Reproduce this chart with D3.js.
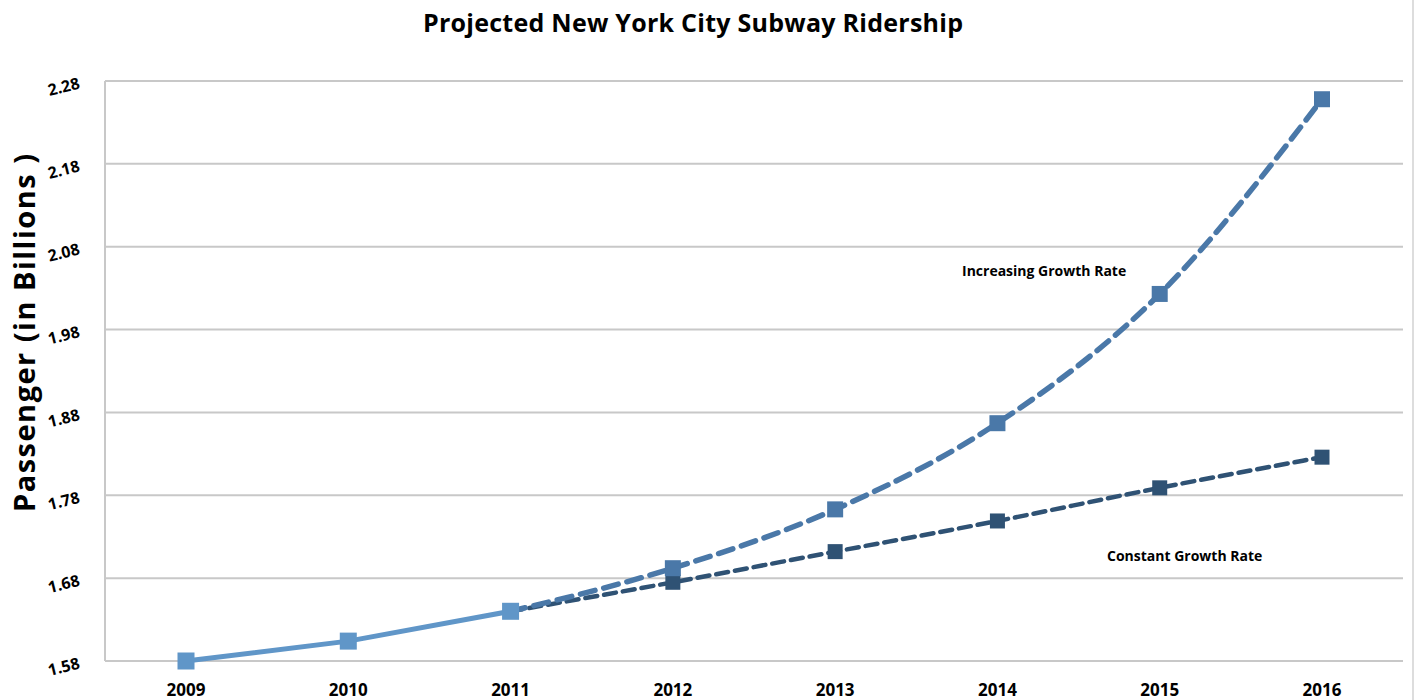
<!DOCTYPE html>
<html>
<head>
<meta charset="utf-8">
<script src="https://cdn.jsdelivr.net/npm/d3@7"></script>
<style>
  body { margin: 0; background: #fff; }
  svg { font-family: "Open Sans", "Noto Sans", sans-serif; font-weight: 700; }
</style>
</head>
<body>
<div id="chart"></div>
<script>
// years on the x axis
var years = [2009, 2010, 2011, 2012, 2013, 2014, 2015, 2016];
// actual ridership (billions)
var actualYears = [2009, 2010, 2011];
var actualValues = [1.58, 1.604, 1.640];
// projections start at 2011
var projYears = [2011, 2012, 2013, 2014, 2015, 2016];
var increasingValues = [1.640, 1.692, 1.763, 1.867, 2.023, 2.258];
var constantValues = [1.640, 1.675, 1.712, 1.749, 1.789, 1.826];
var yTicks = [1.58, 1.68, 1.78, 1.88, 1.98, 2.08, 2.18, 2.28];

var width = 1416, height = 700;
var margin = { top: 81, right: 13, bottom: 39, left: 105 };

var svg = d3.select("#chart").append("svg")
    .attr("width", width)
    .attr("height", height);

var x = d3.scalePoint()
    .domain(years)
    .range([186, 1322]);

var y = d3.scaleLinear()
    .domain([1.58, 2.28])
    .range([height - margin.bottom, margin.top]);

// gridlines
svg.append("g")
    .selectAll("line")
    .data(yTicks)
    .enter().append("line")
    .attr("x1", margin.left)
    .attr("x2", 1403)
    .attr("y1", d => y(d))
    .attr("y2", d => y(d))
    .attr("stroke", "#c8c8c8")
    .attr("stroke-width", 2);

// left axis line
svg.append("line")
    .attr("x1", margin.left).attr("x2", margin.left)
    .attr("y1", y(2.28)).attr("y2", y(1.58))
    .attr("stroke", "#c8c8c8").attr("stroke-width", 2);

// right frame edge
svg.append("line")
    .attr("x1", 1413).attr("x2", 1413)
    .attr("y1", 0).attr("y2", height)
    .attr("stroke", "#dddddd").attr("stroke-width", 2);

// y tick labels, slanted
svg.append("g")
    .selectAll("text")
    .data(yTicks)
    .enter().append("text")
    .attr("transform", d => "translate(64," + (y(d) + 7) + ") rotate(-14)")
    .attr("text-anchor", "middle")
    .attr("dominant-baseline", "middle")
    .style("font-size", "16px")
    .text(d => d.toFixed(2));

// x tick labels
svg.append("g")
    .selectAll("text")
    .data(years)
    .enter().append("text")
    .attr("x", d => x(d))
    .attr("y", 696)
    .attr("text-anchor", "middle")
    .style("font-size", "17px")
    .text(d => d);

// title
svg.append("text")
    .attr("x", 693)
    .attr("y", 32)
    .attr("text-anchor", "middle")
    .attr("textLength", 540)
    .attr("lengthAdjust", "spacing")
    .style("font-size", "25px")
    .text("Projected New York City Subway Ridership");

// y axis title
svg.append("text")
    .attr("transform", "translate(35,333) rotate(-90)")
    .attr("text-anchor", "middle")
    .attr("textLength", 358)
    .attr("lengthAdjust", "spacing")
    .style("font-size", "29px")
    .text("Passenger (in Billions )");

function pairs(xs, vs) {
    return xs.map((d, i) => ({ year: d, value: vs[i] }));
}

var line = d3.line()
    .x(d => x(d.year))
    .y(d => y(d.value));

var smooth = d3.line()
    .x(d => x(d.year))
    .y(d => y(d.value))
    .curve(d3.curveMonotoneX);

var series = [
    { name: "constant", data: pairs(projYears, constantValues), color: "#2f5274", width: 4.5, dash: "12,7", gen: smooth, size: 15 },
    { name: "increasing", data: pairs(projYears, increasingValues), color: "#4a78a8", width: 5.5, dash: "15,9", gen: smooth, size: 16 },
    { name: "actual", data: pairs(actualYears, actualValues), color: "#6096c8", width: 5, dash: null, gen: line, size: 17 }
];

series.forEach(function (s) {
    svg.append("path")
        .datum(s.data)
        .attr("fill", "none")
        .attr("stroke", s.color)
        .attr("stroke-width", s.width)
        .attr("stroke-dasharray", s.dash)
        .attr("stroke-linecap", "round")
        .attr("d", s.gen);

    var pts = s.name === "actual" ? s.data : s.data.slice(1);
    svg.append("g")
        .selectAll("rect")
        .data(pts)
        .enter().append("rect")
        .attr("x", d => x(d.year) - s.size / 2)
        .attr("y", d => y(d.value) - s.size / 2)
        .attr("width", s.size)
        .attr("height", s.size)
        .attr("fill", s.color);
});

// series labels
svg.append("text")
    .attr("x", 962)
    .attr("y", 276)
    .style("font-size", "14px")
    .text("Increasing Growth Rate");

svg.append("text")
    .attr("x", 1107)
    .attr("y", 561)
    .style("font-size", "14px")
    .text("Constant Growth Rate");
</script>
</body>
</html>
